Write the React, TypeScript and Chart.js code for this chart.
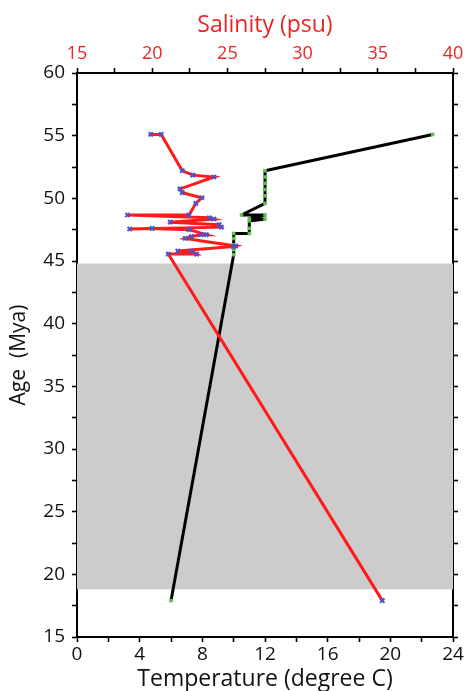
import React, { useEffect, useRef } from "react";
import { Chart, registerables } from "chart.js";

Chart.register(...registerables);

// Salinity record (top axis, psu) vs age (Mya)
const salinityAge = [55.1, 55.1, 52.2, 51.85, 51.7, 50.75, 50.45, 50.05, 49.6, 48.67, 48.67, 48.45, 48.35, 48.1, 47.9, 47.7, 47.55, 47.6, 47.5, 47.1, 47.1, 46.95, 46.8, 46.2, 46.15, 45.8, 45.8, 45.55, 45.55, 17.9];
const salinity = [19.9, 20.6, 22.0, 22.7, 24.1, 21.85, 22.0, 23.3, 22.9, 22.45, 18.35, 23.8, 24.1, 21.2, 24.45, 24.6, 18.5, 20.0, 22.45, 23.6, 23.25, 22.6, 22.2, 25.55, 25.4, 21.7, 22.6, 22.95, 21.07, 35.3];

// Temperature record (bottom axis, degree C) vs age (Mya)
const tempAge = [55.1, 52.2, 51.7, 51.2, 50.7, 50.2, 49.6, 48.67, 48.67, 48.4, 48.35, 48.2, 47.6, 47.2, 47.2, 46.8, 46.3, 45.9, 45.5, 17.9];
const temperature = [22.7, 12.0, 12.0, 12.0, 12.0, 12.0, 12.0, 10.5, 12.0, 11.0, 12.0, 11.0, 11.0, 11.0, 10.0, 10.0, 10.0, 10.0, 10.0, 6.0];

// Shaded age interval (Mya)
const grayBand = [18.8, 44.8];

// Axis ranges / ticks
const tempRange = [0, 24];
const salRange = [15, 40];
const ageRange = [15, 60];

const FONT = "'Open Sans', 'Liberation Sans', sans-serif";
const RED = "#ee2424";

const bandPlugin = {
  id: "band",
  beforeDatasetsDraw(chart: any) {
    const { ctx, chartArea, scales } = chart;
    const y = scales.y;
    const top = y.getPixelForValue(grayBand[1]);
    const bot = y.getPixelForValue(grayBand[0]);
    ctx.save();
    ctx.fillStyle = "#cccccc";
    ctx.fillRect(chartArea.left, top, chartArea.right - chartArea.left, bot - top);
    ctx.restore();
  },
};

export default function App() {
  const ref = useRef<HTMLCanvasElement | null>(null);

  useEffect(() => {
    document.body.style.margin = "0";
    const canvas = ref.current!;
    const grid = {
      display: true,
      drawOnChartArea: false,
      drawTicks: true,
      tickLength: 5,
      tickWidth: 1.6,
      color: "#000",
    };
    const border = { display: true, color: "#000", width: 2 };
    const tickFont = { family: FONT, size: 19 };

    const chart = new Chart(canvas, {
      type: "line",
      data: {
        datasets: [
          {
            label: "Salinity",
            data: salinity.map((s, i) => ({ x: s, y: salinityAge[i] })),
            xAxisID: "x2",
            yAxisID: "y",
            borderColor: "#ff1a1a",
            borderWidth: 3,
            borderJoinStyle: "miter",
            pointStyle: "crossRot",
            pointRadius: 3,
            pointBorderWidth: 2,
            pointBorderColor: "#4a55c8",
            pointBackgroundColor: "#4a55c8",
            tension: 0,
            fill: false,
          },
          {
            label: "Temperature",
            data: temperature.map((t, i) => ({ x: t, y: tempAge[i] })),
            xAxisID: "x",
            yAxisID: "y",
            borderColor: "#000",
            borderWidth: 3,
            borderJoinStyle: "bevel",
            pointStyle: "rect",
            pointRadius: 2.5,
            pointBorderWidth: 0,
            pointBackgroundColor: "#5cc24a",
            pointBorderColor: "#5cc24a",
            tension: 0,
            fill: false,
          },
        ],
      },
      options: {
        animation: false,
        responsive: false,
        devicePixelRatio: 1,
        layout: { padding: 0 },
        plugins: { legend: { display: false }, tooltip: { enabled: false } },
        scales: {
          x: {
            type: "linear",
            position: "bottom",
            min: tempRange[0],
            max: tempRange[1],
            grid,
            border,
            ticks: {
              stepSize: 2,
              autoSkip: false,
              maxRotation: 0,
              padding: 1,
              color: "#111",
              font: tickFont,
              callback: (v: any) => (Number(v) % 4 === 0 ? String(v) : ""),
            },
            title: {
              display: true,
              text: "Temperature (degree C)",
              color: "#111",
              font: { family: FONT, size: 23, lineHeight: 1 },
              padding: { top: 0, bottom: 0 },
            },
            afterFit: (s: any) => {
              s.height = 54;
            },
          },
          x2: {
            type: "linear",
            position: "top",
            min: salRange[0],
            max: salRange[1],
            grid,
            border,
            ticks: {
              stepSize: 2.5,
              autoSkip: false,
              maxRotation: 0,
              padding: 3,
              color: RED,
              font: { family: FONT, size: 18 },
              callback: (v: any) => (Number(v) % 5 === 0 ? String(v) : ""),
            },
            title: {
              display: true,
              text: "Salinity (psu)",
              color: RED,
              font: { family: FONT, size: 23, lineHeight: 1.2 },
              padding: { top: 12, bottom: 0 },
            },
            afterFit: (s: any) => {
              s.height = 73;
            },
          },
          y: {
            type: "linear",
            position: "left",
            min: ageRange[0],
            max: ageRange[1],
            grid,
            border,
            ticks: {
              stepSize: 2.5,
              autoSkip: false,
              padding: 7,
              color: "#111",
              font: tickFont,
              callback: (v: any) => (Number(v) % 5 === 0 ? String(v) : ""),
            },
            title: {
              display: true,
              text: "Age  (Mya)",
              color: "#111",
              font: { family: FONT, size: 21, lineHeight: 1.2 },
              padding: { top: 6, bottom: 0 },
            },
            afterFit: (s: any) => {
              s.width = 77;
            },
          },
          y2: {
            type: "linear",
            position: "right",
            min: ageRange[0],
            max: ageRange[1],
            grid,
            border,
            ticks: {
              stepSize: 2.5,
              autoSkip: false,
              display: true,
              color: "rgba(0,0,0,0)",
              font: tickFont,
              callback: () => "",
            },
            afterFit: (s: any) => {
              s.width = 15;
            },
          },
        },
      },
      plugins: [bandPlugin],
    });
    return () => chart.destroy();
  }, []);

  return (
    <div style={{ position: "absolute", left: 0, top: 0, width: 468, height: 691, background: "#fff" }}>
      <canvas ref={ref} width={468} height={691} style={{ display: "block" }} />
    </div>
  );
}
